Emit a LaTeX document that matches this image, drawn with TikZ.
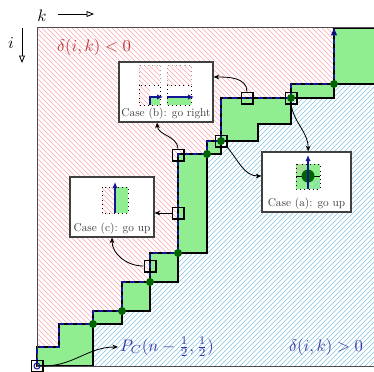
\documentclass[tikz,border=0pt]{standalone}
\usepackage{tikz}
\usetikzlibrary{arrows.meta, patterns, positioning}
\usepackage{amssymb}
\usepackage[]{amsmath}

\definecolor{lightgreen}{RGB}{144,238,144}
\definecolor{darkgreen}{RGB}{0,100,0}
\definecolor{pathblue}{RGB}{20,20,150}
\definecolor{negred}{RGB}{185,55,55}
\definecolor{posblue}{RGB}{55,55,170}
\definecolor{hatchred}{RGB}{255,165,175}
\definecolor{hatchblue}{RGB}{130,195,225}

\begin{document}
\begin{tikzpicture}[x=0.6pt, y=-0.6pt, >={Stealth[length=1.2mm, width=1mm]},
    neghatch/.style={pattern=north west lines, pattern color=hatchred},
    poshatch/.style={pattern=north east lines, pattern color=hatchblue},
    region/.style={fill=lightgreen, draw=black, line width=0.7pt},
    walk/.style={pathblue, line width=0.8pt, dash pattern=on 3pt off 2.2pt},
    touch/.style={circle, fill=darkgreen, inner sep=0pt, minimum size=4.8pt},
    probe/.style={draw, line width=0.8pt, inner sep=0pt, minimum size=7pt},
    casebox/.style={draw=black!75, line width=0.7pt, fill=white, minimum height=36pt},
    casetext/.style={text=black!75, inner sep=1.5pt, scale=0.68, transform shape},
    cell/.style={dotted, line width=0.5pt},
    move/.style={pathblue, line width=1.2pt, -{Latex[length=3.6pt, width=3.2pt]}},
    link/.style={->, line width=0.5pt},
    axis/.style={-{Triangle[open, length=4.5pt, width=3.6pt]}, line width=0.5pt}]
  \useasboundingbox (0,0) rectangle (374,371);

  % the two sides of the boundary
  \fill[neghatch] (37,28) -- (334,28) -- (334,84) -- (291,84) -- (291,98) -- (221,98) -- (221,141) -- (207,141) -- (207,154) -- (178,154) -- (178,253) -- (150,253) -- (150,282) -- (122,282) -- (122,311) -- (93,311) -- (93,324) -- (59,324) -- (59,347) -- (37,347) -- cycle;
  \fill[poshatch] (93,366) -- (93,324) -- (122,324) -- (122,311) -- (150,311) -- (150,282) -- (178,282) -- (178,253) -- (207,253) -- (207,154) -- (221,154) -- (221,141) -- (258,141) -- (258,124) -- (291,124) -- (291,98) -- (334,98) -- (334,84) -- (380,84) -- (380,366) -- cycle;
  \draw[region] (37,366) -- (37,347) -- (59,347) -- (59,324) -- (93,324) -- (93,311) -- (122,311) -- (122,282) -- (150,282) -- (150,253) -- (178,253) -- (178,154) -- (207,154) -- (207,141) -- (221,141) -- (221,98) -- (291,98) -- (291,84) -- (334,84) -- (334,28) -- (380,28) -- (380,84) -- (334,84) -- (334,98) -- (291,98) -- (291,124) -- (258,124) -- (258,141) -- (221,141) -- (221,154) -- (207,154) -- (207,253) -- (178,253) -- (178,282) -- (150,282) -- (150,311) -- (122,311) -- (122,324) -- (93,324) -- (93,366) -- cycle;
  \draw[black!70, line width=0.6pt] (37,28) rectangle (380,366);

  % the path P_C
  \node[circle, draw=pathblue, line width=0.6pt, inner sep=0pt, minimum size=3.6pt] (origin) at (37,366) {};
  \draw[walk, -{Triangle[open, length=4.5pt, width=3.6pt]}] (origin) -- (37,347) -- (59,347) -- (59,324) -- (93,324) -- (93,311) -- (122,311) -- (122,282) -- (150,282) -- (150,253) -- (178,253) -- (178,154) -- (207,154) -- (207,141) -- (221,141) -- (221,98) -- (291,98) -- (291,84) -- (334,84) -- (334,28);
  \foreach \x/\y [count=\n] in {93/324, 122/311, 150/282, 178/253, 207/154, 221/141, 291/98, 334/84}
    \node[touch] (t\n) at (\x,\y) {};

  % probes
  \node[probe] (start) at (37,366) {};
  \node[probe] (pb1) at (247,98) {};
  \node[probe] (pb2) at (178,155) {};
  \node[probe] (pa1) at (221,141) {};
  \node[probe] (pa2) at (291,98) {};
  \node[probe] (pc1) at (178,213) {};
  \node[probe] (pc2) at (150,266) {};

  % case (b)
  \node[casebox, minimum width=56.4pt] (caseb) at (166,92) {};
  \node[casetext, above=1pt of caseb.south] (textb) {Case (b): go right};
  \fill[neghatch] (139,65) rectangle (160,105);
  \fill[white] (150,85) rectangle (160,97);
  \fill[lightgreen] (150,97) rectangle (160,105);
  \draw[cell, black!40] (139,85) -- (139,65) -- (160,65) -- (160,85);
  \draw[cell] (139,85) rectangle (160,105);
  \draw[move] (150,105) -- (150,97) -- (163,97);
  \fill[neghatch] (167,65) rectangle (191,85);
  \fill[lightgreen] (167,97) rectangle (191,105);
  \draw[cell, black!40] (167,85) -- (167,65) -- (191,65) -- (191,85);
  \draw[cell] (167,85) rectangle (191,105);
  \draw[move] (167,97) -- (194,97);

  % case (a)
  \node[casebox, minimum width=53.4pt] (casea) at (306.5,182) {};
  \node[casetext, above=1pt of casea.south] (texta) {Case (a): go up};
  \fill[lightgreen] (296,164) rectangle (320,189);
  \fill[neghatch] (296,164) rectangle (305,173);
  \fill[poshatch] (313,180) rectangle (320,189);
  \draw[line width=0.6pt] (296,176) -- (320,176);
  \node[touch, minimum size=7.8pt] (ta) at (308,176) {};
  \draw[cell] (296,164) rectangle (320,189);
  \draw[move] (308,189) -- (308,155);

  % case (c)
  \node[casebox, minimum width=50.4pt] (casec) at (112,207) {};
  \node[casetext, above=1pt of casec.south] (textc) {Case (c): go up};
  \fill[neghatch] (102,187) rectangle (115,213);
  \fill[lightgreen] (115,187) rectangle (128,213);
  \draw[cell] (102,187) rectangle (128,213);
  \draw[move] (115,213) -- (115,182);

  % labels
  \node[text=negred] (neglabel) at (94,47) {$\delta(i,k) < 0$};
  \node[text=posblue] (poslabel) at (326,347) {$\delta(i,k) > 0$};
  \node[text=posblue, anchor=west, inner sep=1pt] (pclabel) at (118,347) {$P_C(n-\tfrac{1}{2},\tfrac{1}{2})$};
  \node (klabel) at (42,16) {$k$};
  \node (ilabel) at (11,43) {$i$};
  \coordinate (kfrom) at (58,14);
  \coordinate (kto) at (94,14);
  \coordinate (ifrom) at (22,28);
  \coordinate (ito) at (22,63);
  \draw[axis] (kfrom) -- (kto);
  \draw[axis] (ifrom) -- (ito);

  % links from the probes to the cases
  \draw[link] (pb1.north) to[out=90, in=0] ([yshift=9pt]caseb.east);
  \draw[link] (pb2.north) to[out=95, in=-85] ([xshift=-5.4pt]caseb.south);
  \draw[link] (pa1.south east) to[out=-50, in=180] ([yshift=3.6pt]casea.west);
  \draw[link] (pa2.south) to[out=-80, in=90] ([xshift=1pt]casea.north);
  \draw[link] (pc1.west) -- (pc1.west -| casec.east);
  \draw[link] (pc2.west) to[out=180, in=-90] (casec.south);
  \draw[link] (start.east) to[out=0, in=180] (pclabel.west);
\end{tikzpicture}
\end{document}
